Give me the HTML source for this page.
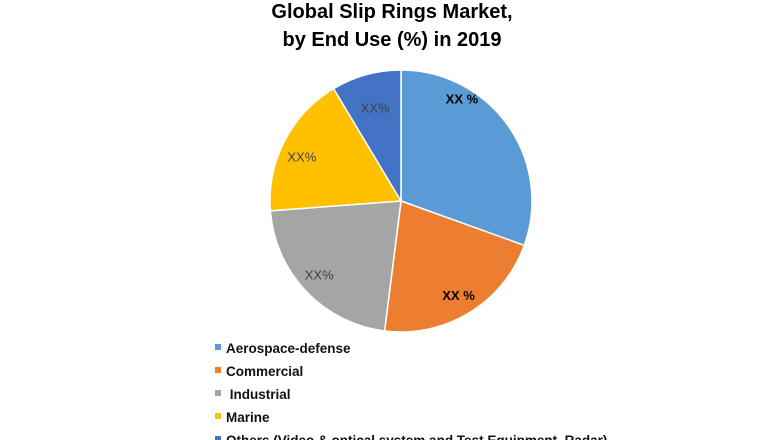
<!DOCTYPE html>
<html><head><meta charset="utf-8"><style>
html,body{margin:0;padding:0;background:#fff;}
svg{display:block;font-family:"Liberation Sans",sans-serif;}
</style></head><body>
<svg id="chart" width="780" height="440" viewBox="0 0 780 440">
<text x="392" y="18" text-anchor="middle" font-size="20" font-weight="bold" fill="#000">Global Slip Rings Market,</text>
<text x="392" y="46" text-anchor="middle" font-size="20" font-weight="bold" fill="#000">by End Use (%) in 2019</text>
<g id="slices"></g><g id="labels"></g><g id="legend"></g>
</svg>
<script>
const categories=["Aerospace-defense","Commercial"," Industrial","Marine","Others (Video & optical system and Test Equipment, Radar)"];
const values=[30.5,21.5,21.8,17.6,8.6];
const sliceLabels=["XX %","XX %","XX%","XX%","XX%"];
const colors=["#5B9BD5","#ED7D31","#A5A5A5","#FFC000","#4472C4"];
const labelBold=[true,true,false,false,false];
const labelAngleFrac=[0.28,0.5,0.52,0.45,0.5];
const labelRadFrac=[0.91,0.84,0.84,0.83,0.74];
const cx=401,cy=201,r=131,ns="http://www.w3.org/2000/svg";
const total=values.reduce((a,b)=>a+b,0);
const sg=document.getElementById('slices'),lg=document.getElementById('labels'),leg=document.getElementById('legend');
let a0=0;
function pt(a,rr){return [cx+rr*Math.sin(a),cy-rr*Math.cos(a)];}
values.forEach((v,i)=>{
  const a1=a0+v/total*2*Math.PI;
  const p0=pt(a0,r),p1=pt(a1,r),large=(a1-a0)>Math.PI?1:0;
  const p=document.createElementNS(ns,'path');
  p.setAttribute('d',`M${cx},${cy}L${p0[0]},${p0[1]}A${r},${r} 0 ${large} 1 ${p1[0]},${p1[1]}Z`);
  p.setAttribute('fill',colors[i]);p.setAttribute('stroke','#fff');p.setAttribute('stroke-width','1.5');
  
  
  sg.appendChild(p);
  const m=a0+(a1-a0)*labelAngleFrac[i],lp=pt(m,r*labelRadFrac[i]);
  const t=document.createElementNS(ns,'text');
  t.setAttribute('x',lp[0]);t.setAttribute('y',lp[1]+5);t.setAttribute('text-anchor','middle');
  t.setAttribute('font-size','13');t.setAttribute('fill',labelBold[i]?'#000':'#404040');
  if(labelBold[i])t.setAttribute('font-weight','bold');
  t.textContent=sliceLabels[i];
  
  
  lg.appendChild(t);
  const y=348+i*23;
  const s=document.createElementNS(ns,'rect');
  s.setAttribute('x',215);s.setAttribute('y',y-4);s.setAttribute('width',6);s.setAttribute('height',6);s.setAttribute('fill',colors[i]);
  
  
  leg.appendChild(s);
  const lt=document.createElementNS(ns,'text');
  lt.setAttribute('x',226);lt.setAttribute('y',y+5);lt.setAttribute('font-size','13.5');lt.setAttribute('font-weight','bold');lt.setAttribute('fill','#111');
  lt.style.whiteSpace='pre';
  lt.textContent=categories[i];
  
  
  leg.appendChild(lt);
  a0=a1;
});
</script>
</body></html>
